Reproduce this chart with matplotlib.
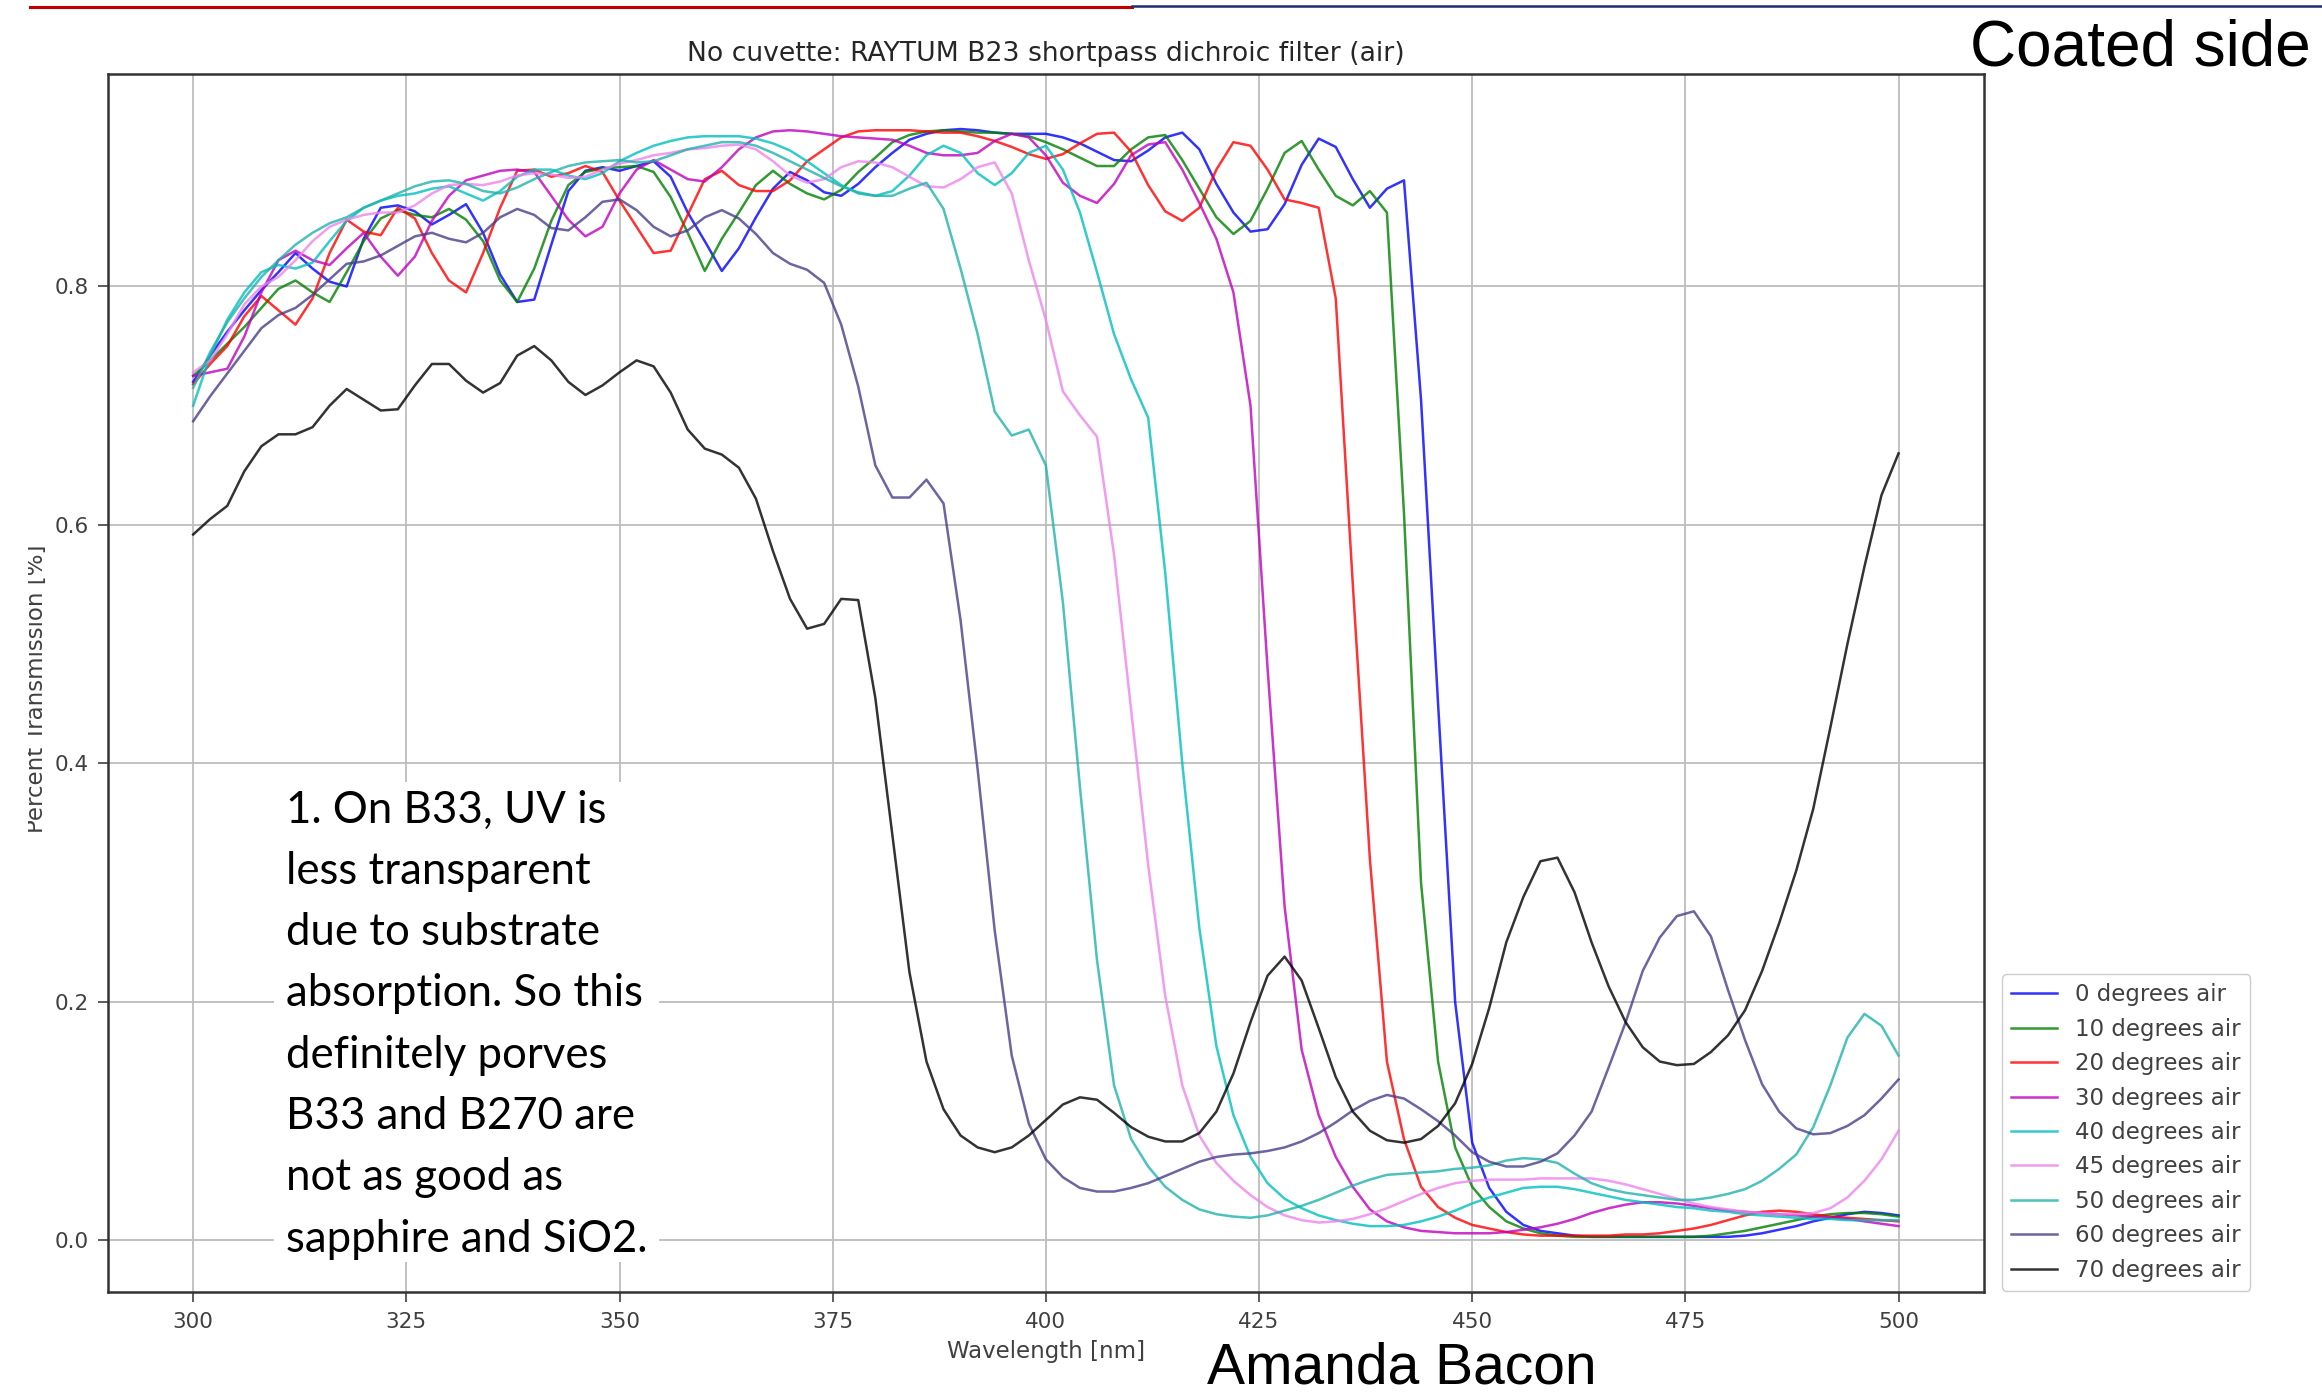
import numpy as np
import matplotlib
matplotlib.use("Agg")
import matplotlib.pyplot as plt
from matplotlib.lines import Line2D
from matplotlib.patches import Rectangle

# Wavelength sampling of the spectrometer scan (nm)
wavelength = np.arange(300, 502, 2)

series_labels = ["0 degrees air", "10 degrees air", "20 degrees air", "30 degrees air",
                 "40 degrees air", "45 degrees air", "50 degrees air", "60 degrees air",
                 "70 degrees air"]
series_colors = ["#0000ff", "#008000", "#ff0000", "#bf00bf", "#00bfbf",
                 "#ee82ee", "#20b2aa", "#483d8b", "#000000"]

# Transmission (fraction) per incidence angle, one value per 2 nm from 300 to 500 nm
t_0deg = [
    0.720, 0.742, 0.762, 0.780, 0.797, 0.812, 0.828, 0.815, 0.804, 0.800,
    0.840, 0.866, 0.868, 0.863, 0.852, 0.860, 0.869, 0.845, 0.810, 0.787,
    0.789, 0.835, 0.880, 0.897, 0.900, 0.897, 0.901, 0.905, 0.892, 0.862,
    0.838, 0.813, 0.832, 0.858, 0.882, 0.896, 0.889, 0.879, 0.876, 0.886,
    0.900, 0.912, 0.923, 0.928, 0.931, 0.932, 0.931, 0.929, 0.928, 0.928,
    0.928, 0.925, 0.920, 0.913, 0.906, 0.905, 0.914, 0.925, 0.929, 0.915,
    0.886, 0.862, 0.846, 0.848, 0.869, 0.902, 0.924, 0.917, 0.890, 0.866,
    0.882, 0.889, 0.705, 0.450, 0.200, 0.082, 0.044, 0.024, 0.013, 0.008,
    0.006, 0.004, 0.003, 0.003, 0.003, 0.003, 0.003, 0.003, 0.003, 0.003,
    0.003, 0.004, 0.006, 0.009, 0.012, 0.016, 0.019, 0.022, 0.024, 0.023,
    0.021]
t_10deg = [
    0.725, 0.738, 0.752, 0.766, 0.782, 0.798, 0.805, 0.795, 0.787, 0.812,
    0.838, 0.857, 0.864, 0.860, 0.858, 0.865, 0.856, 0.838, 0.805, 0.787,
    0.815, 0.855, 0.885, 0.896, 0.899, 0.900, 0.901, 0.896, 0.875, 0.845,
    0.813, 0.840, 0.862, 0.885, 0.897, 0.886, 0.878, 0.873, 0.881, 0.896,
    0.908, 0.921, 0.927, 0.930, 0.931, 0.930, 0.929, 0.929, 0.928, 0.926,
    0.921, 0.915, 0.908, 0.901, 0.901, 0.915, 0.925, 0.927, 0.906, 0.882,
    0.858, 0.844, 0.855, 0.882, 0.912, 0.922, 0.898, 0.876, 0.868, 0.880,
    0.862, 0.610, 0.300, 0.150, 0.078, 0.045, 0.028, 0.016, 0.010, 0.006,
    0.004, 0.003, 0.003, 0.003, 0.003, 0.003, 0.003, 0.003, 0.003, 0.004,
    0.006, 0.008, 0.011, 0.014, 0.017, 0.020, 0.022, 0.023, 0.023, 0.022,
    0.020]
t_20deg = [
    0.718, 0.735, 0.750, 0.775, 0.792, 0.780, 0.768, 0.790, 0.828, 0.856,
    0.846, 0.843, 0.866, 0.857, 0.828, 0.805, 0.795, 0.828, 0.866, 0.897,
    0.898, 0.892, 0.895, 0.901, 0.896, 0.872, 0.850, 0.828, 0.830, 0.860,
    0.890, 0.897, 0.885, 0.880, 0.880, 0.889, 0.905, 0.915, 0.925, 0.930,
    0.931, 0.931, 0.931, 0.930, 0.929, 0.929, 0.926, 0.922, 0.917, 0.911,
    0.907, 0.911, 0.920, 0.928, 0.929, 0.913, 0.885, 0.863, 0.855, 0.866,
    0.898, 0.921, 0.918, 0.898, 0.873, 0.870, 0.866, 0.790, 0.550, 0.320,
    0.150, 0.085, 0.045, 0.028, 0.019, 0.013, 0.010, 0.007, 0.005, 0.004,
    0.004, 0.004, 0.004, 0.004, 0.005, 0.005, 0.006, 0.008, 0.010, 0.013,
    0.017, 0.021, 0.024, 0.025, 0.024, 0.022, 0.020, 0.019, 0.018, 0.017,
    0.016]
t_30deg = [
    0.725, 0.728, 0.731, 0.758, 0.795, 0.822, 0.830, 0.822, 0.818, 0.832,
    0.845, 0.825, 0.809, 0.825, 0.855, 0.876, 0.889, 0.893, 0.897, 0.898,
    0.896, 0.876, 0.856, 0.842, 0.850, 0.878, 0.898, 0.906, 0.898, 0.890,
    0.888, 0.900, 0.915, 0.925, 0.930, 0.931, 0.930, 0.928, 0.926, 0.925,
    0.924, 0.923, 0.918, 0.912, 0.910, 0.910, 0.912, 0.922, 0.928, 0.925,
    0.910, 0.887, 0.876, 0.870, 0.886, 0.910, 0.919, 0.921, 0.898, 0.870,
    0.840, 0.795, 0.700, 0.480, 0.280, 0.160, 0.105, 0.070, 0.045, 0.026,
    0.016, 0.011, 0.008, 0.007, 0.006, 0.006, 0.006, 0.007, 0.009, 0.011,
    0.014, 0.018, 0.023, 0.027, 0.030, 0.032, 0.032, 0.031, 0.029, 0.027,
    0.025, 0.024, 0.023, 0.022, 0.021, 0.020, 0.019, 0.018, 0.016, 0.014,
    0.012]
t_40deg = [
    0.700, 0.742, 0.772, 0.795, 0.812, 0.818, 0.815, 0.820, 0.838, 0.855,
    0.866, 0.872, 0.876, 0.878, 0.882, 0.884, 0.878, 0.872, 0.880, 0.892,
    0.898, 0.898, 0.893, 0.890, 0.895, 0.905, 0.912, 0.918, 0.922, 0.925,
    0.926, 0.926, 0.926, 0.924, 0.920, 0.914, 0.905, 0.895, 0.885, 0.878,
    0.876, 0.880, 0.893, 0.910, 0.918, 0.912, 0.895, 0.885, 0.895, 0.912,
    0.918, 0.898, 0.862, 0.812, 0.760, 0.722, 0.690, 0.560, 0.400, 0.262,
    0.163, 0.105, 0.070, 0.048, 0.035, 0.027, 0.021, 0.017, 0.014, 0.012,
    0.012, 0.013, 0.016, 0.020, 0.025, 0.031, 0.036, 0.040, 0.044, 0.045,
    0.045, 0.043, 0.040, 0.037, 0.034, 0.032, 0.030, 0.028, 0.027, 0.025,
    0.024, 0.022, 0.021, 0.020, 0.019, 0.018, 0.018, 0.017, 0.017, 0.017,
    0.017]
t_45deg = [
    0.728, 0.738, 0.760, 0.785, 0.800, 0.808, 0.822, 0.838, 0.850, 0.856,
    0.860, 0.862, 0.862, 0.868, 0.878, 0.885, 0.886, 0.885, 0.888, 0.893,
    0.895, 0.894, 0.891, 0.892, 0.898, 0.903, 0.906, 0.910, 0.912, 0.915,
    0.916, 0.918, 0.919, 0.915, 0.905, 0.893, 0.887, 0.890, 0.900, 0.905,
    0.904, 0.900, 0.892, 0.884, 0.883, 0.890, 0.900, 0.904, 0.878, 0.822,
    0.772, 0.712, 0.692, 0.674, 0.575, 0.445, 0.315, 0.205, 0.130, 0.088,
    0.065, 0.050, 0.038, 0.028, 0.021, 0.017, 0.015, 0.016, 0.018, 0.022,
    0.027, 0.033, 0.039, 0.044, 0.048, 0.050, 0.051, 0.051, 0.051, 0.052,
    0.052, 0.052, 0.052, 0.050, 0.047, 0.043, 0.039, 0.035, 0.031, 0.028,
    0.026, 0.024, 0.023, 0.022, 0.022, 0.023, 0.027, 0.036, 0.050, 0.068,
    0.092]
t_50deg = [
    0.715, 0.745, 0.770, 0.790, 0.808, 0.822, 0.835, 0.845, 0.853, 0.858,
    0.866, 0.872, 0.878, 0.884, 0.888, 0.889, 0.886, 0.880, 0.878, 0.883,
    0.890, 0.896, 0.901, 0.904, 0.905, 0.906, 0.904, 0.905, 0.910, 0.915,
    0.918, 0.921, 0.921, 0.918, 0.912, 0.905, 0.898, 0.891, 0.884, 0.879,
    0.876, 0.876, 0.882, 0.887, 0.865, 0.815, 0.760, 0.695, 0.675, 0.680,
    0.650, 0.535, 0.380, 0.235, 0.130, 0.085, 0.062, 0.045, 0.034, 0.026,
    0.022, 0.020, 0.019, 0.021, 0.025, 0.029, 0.034, 0.040, 0.046, 0.051,
    0.055, 0.056, 0.057, 0.058, 0.060, 0.061, 0.063, 0.067, 0.069, 0.068,
    0.065, 0.056, 0.048, 0.043, 0.040, 0.038, 0.036, 0.034, 0.034, 0.036,
    0.039, 0.043, 0.050, 0.060, 0.072, 0.095, 0.130, 0.170, 0.190, 0.180,
    0.155]
t_60deg = [
    0.687, 0.708, 0.727, 0.746, 0.765, 0.776, 0.782, 0.793, 0.806, 0.819,
    0.821, 0.826, 0.834, 0.842, 0.845, 0.840, 0.837, 0.845, 0.858, 0.865,
    0.860, 0.849, 0.847, 0.858, 0.871, 0.873, 0.864, 0.850, 0.842, 0.847,
    0.858, 0.864, 0.857, 0.844, 0.828, 0.819, 0.814, 0.803, 0.768, 0.716,
    0.650, 0.623, 0.623, 0.638, 0.618, 0.520, 0.395, 0.260, 0.155, 0.098,
    0.068, 0.053, 0.044, 0.041, 0.041, 0.044, 0.048, 0.054, 0.060, 0.066,
    0.070, 0.072, 0.073, 0.075, 0.078, 0.083, 0.090, 0.099, 0.109, 0.117,
    0.122, 0.119, 0.110, 0.100, 0.088, 0.074, 0.066, 0.062, 0.062, 0.066,
    0.073, 0.088, 0.108, 0.145, 0.183, 0.226, 0.254, 0.272, 0.276, 0.255,
    0.210, 0.168, 0.131, 0.108, 0.094, 0.089, 0.090, 0.096, 0.105, 0.119,
    0.135]
t_70deg = [
    0.592, 0.605, 0.616, 0.645, 0.666, 0.676, 0.676, 0.682, 0.700, 0.714,
    0.705, 0.696, 0.697, 0.717, 0.735, 0.735, 0.721, 0.711, 0.719, 0.742,
    0.750, 0.738, 0.720, 0.709, 0.717, 0.728, 0.738, 0.733, 0.711, 0.680,
    0.664, 0.659, 0.648, 0.622, 0.578, 0.538, 0.513, 0.517, 0.538, 0.537,
    0.455, 0.340, 0.225, 0.150, 0.110, 0.088, 0.078, 0.074, 0.078, 0.088,
    0.101, 0.114, 0.120, 0.118, 0.107, 0.095, 0.087, 0.083, 0.083, 0.090,
    0.108, 0.140, 0.183, 0.222, 0.238, 0.218, 0.178, 0.137, 0.108, 0.092,
    0.084, 0.082, 0.085, 0.096, 0.115, 0.148, 0.195, 0.250, 0.288, 0.318,
    0.321, 0.292, 0.250, 0.213, 0.183, 0.162, 0.150, 0.147, 0.148, 0.158,
    0.172, 0.193, 0.226, 0.266, 0.310, 0.362, 0.430, 0.500, 0.565, 0.625,
    0.660]

series_values = [t_0deg, t_10deg, t_20deg, t_30deg, t_40deg,
                 t_45deg, t_50deg, t_60deg, t_70deg]

x_ticks = [300, 325, 350, 375, 400, 425, 450, 475, 500]
y_ticks = [0.0, 0.2, 0.4, 0.6, 0.8]

note_lines = ["1. On B33, UV is", "less transparent", "due to substrate",
              "absorption. So this", "definitely porves", "B33 and B270 are",
              "not as good as", "sapphire and SiO2."]

W, H = 2322, 1392
fig = plt.figure(figsize=(W / 100, H / 100), dpi=100)
fig.patch.set_facecolor("white")

# Slide header rule: red on the left, navy on the right
fig.add_artist(Line2D([30 / W, 1132 / W], [1 - 7 / H, 1 - 7 / H],
                      color="#c00000", lw=2.2, transform=fig.transFigure))
fig.add_artist(Line2D([1132 / W, 1.0], [1 - 6 / H, 1 - 6 / H],
                      color="#1f2f6e", lw=1.8, transform=fig.transFigure))

ax = fig.add_axes([107.9 / W, 1 - 1292.3 / H, (1983.8 - 107.9) / W, (1292.3 - 73.6) / H])

for vals, lab, col in zip(series_values, series_labels, series_colors):
    ax.plot(wavelength, vals, color=col, lw=1.8, alpha=0.8, label=lab)

ax.set_xlim(290, 510)
ax.set_ylim(-0.0435, 0.9785)
ax.set_xticks(x_ticks)
ax.set_yticks(y_ticks)
ax.grid(True, color="#bdbdbd", lw=1.3)
ax.set_axisbelow(True)
ax.tick_params(labelsize=15.5, length=7, width=1.2, pad=7, colors="0.25")
for sp in ax.spines.values():
    sp.set_linewidth(1.8)
    sp.set_color("0.2")

ax.set_title("No cuvette: RAYTUM B23 shortpass dichroic filter (air)",
             fontsize=19.2, pad=9, color="0.15")
ax.set_xlabel("Wavelength [nm]", fontsize=16.5, labelpad=6, color="0.25")
ax.set_ylabel("Percent Transmission [%]", fontsize=16.5, color="0.25")
ax.yaxis.set_label_coords((48 - 107.9) / (1983.8 - 107.9), 0.495)

leg = ax.legend(loc="lower left", bbox_to_anchor=(2002 / W, 1 - 1291 / H),
                bbox_transform=fig.transFigure, fontsize=16.5, labelspacing=0.50,
                borderaxespad=0, framealpha=1, edgecolor="0.8")
for t in leg.get_texts():
    t.set_color("0.25")

# The slide crops the left edge of the pasted plot
fig.add_artist(Rectangle((0, 0), 28 / W, 1, transform=fig.transFigure,
                         facecolor="white", edgecolor="none", zorder=10))

# Comment box laid over the plot
fig.add_artist(Rectangle((274 / W, 1 - 1262 / H), (659 - 274) / W, (1262 - 782) / H,
                         transform=fig.transFigure, facecolor="white",
                         edgecolor="none", zorder=5))
for i, line in enumerate(note_lines):
    fig.text(286 / W, 1 - (810 + i * 61.3) / H, line, fontsize=31.5, family="Lato",
             ha="left", va="center", color="black", zorder=6)

fig.text(1970 / W, 1 - 66 / H, "Coated side", fontsize=46,
         family="Liberation Sans", ha="left", va="baseline", color="black")
fig.text(1207 / W, 1 - 1384 / H, "Amanda Bacon", fontsize=41,
         family="Liberation Sans", ha="left", va="baseline", color="black")

fig.savefig("out.png", dpi=100, facecolor="white")
